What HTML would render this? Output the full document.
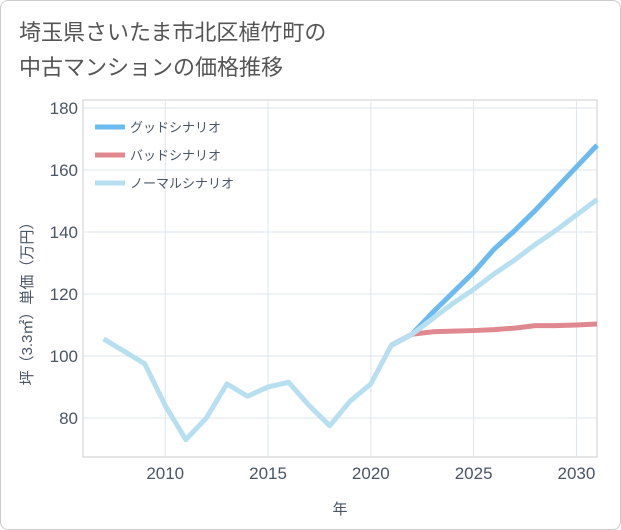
<!DOCTYPE html>
<html><head><meta charset="utf-8"><style>
body{margin:0;background:#fff;font-family:"Liberation Sans","Noto Sans CJK JP",sans-serif}
#wrap{position:relative;width:619px;height:528px;border:1px solid #ccc;border-radius:8px;overflow:hidden;background:#fff}
h1{position:absolute;left:18px;top:14px;margin:0;font-weight:normal;font-size:22px;line-height:35px;color:#555}
</style></head><body>
<div id="wrap">
<h1>埼玉県さいたま市北区植竹町の<br>中古マンションの価格推移</h1>
<svg id="c" width="621" height="530" style="position:absolute;left:-1px;top:-1px"></svg>
</div>
<script>
const years=[2007,2008,2009,2010,2011,2012,2013,2014,2015,2016,2017,2018,2019,2020,2021,2022,2023,2024,2025,2026,2027,2028,2029,2030,2031];
const normal=[105.5,101.5,97.5,84,73,80,91,87,90,91.5,84,77.5,85.5,91,103.5,107,112,117,121.5,126.5,131,136,140.5,145.5,150.5];
const goodYears=[2021,2022,2023,2024,2025,2026,2027,2028,2029,2030,2031];
const good=[103.5,107,114,120.5,127,134.5,140.5,147,154,161,168];
const bad=[103.5,107,107.8,108,108.2,108.5,109,109.8,109.8,110,110.3];
const xTicks=[2010,2015,2020,2025,2030];
const yTicks=[80,100,120,140,160,180];
const L=83,R=597,T=100,B=457;
const x=v=>L+(v-2006)/(2031-2006)*(R-L);
const y=v=>B-(v-67.4)/(182.6-67.4)*(B-T);
const s=document.getElementById('c');const NS='http://www.w3.org/2000/svg';
function el(t,a,p){const e=document.createElementNS(NS,t);for(const k in a)e.setAttribute(k,a[k]);(p||s).appendChild(e);return e;}
const r=el('rect',{x:L,y:T,width:R-L,height:B-T,fill:'none',stroke:'#ccc'});


xTicks.forEach(t=>{const g=el('line',{x1:x(t),x2:x(t),y1:T,y2:B,stroke:'#dde6ee'});


const tx=el('text',{x:x(t),y:B+22,'text-anchor':'middle','font-size':17,fill:'#4a5566'});tx.textContent=t;

});
yTicks.forEach(t=>{const g=el('line',{x1:L,x2:R,y1:y(t),y2:y(t),stroke:'#dde6ee'});


const tx=el('text',{x:L-5,y:y(t)+6,'text-anchor':'end','font-size':17,fill:'#4a5566'});tx.textContent=t;

});
const xt=el('text',{x:340,y:514,'text-anchor':'middle','font-size':15,fill:'#4a5566'});xt.textContent='年';


const yt=el('text',{transform:'translate(32,300) rotate(-90)','text-anchor':'middle','font-size':15,fill:'#4a5566'});yt.textContent='坪（3.3㎡）単価（万円）';


function line(xs,vs,c,n){const p=el('polyline',{points:xs.map((v,i)=>x(v)+','+y(vs[i])).join(' '),fill:'none',stroke:c,'stroke-width':5,'stroke-linejoin':'round'});

}
line(goodYears,good,'#6bbaf0','good-scenario-line');
line(goodYears,bad,'#e08890','bad-scenario-line');
line(years,normal,'#b8dff0','normal-scenario-line');
[['グッドシナリオ','#6bbaf0'],['バッドシナリオ','#e08890'],['ノーマルシナリオ','#b8dff0']].forEach((d,i)=>{
const g=el('g',{});


el('line',{x1:95,x2:125,y1:127+i*28,y2:127+i*28,stroke:d[1],'stroke-width':5},g);
const t=el('text',{x:130,y:132+i*28,'font-size':13,fill:'#4a5566'},g);t.textContent=d[0];});
</script>
</body></html>
